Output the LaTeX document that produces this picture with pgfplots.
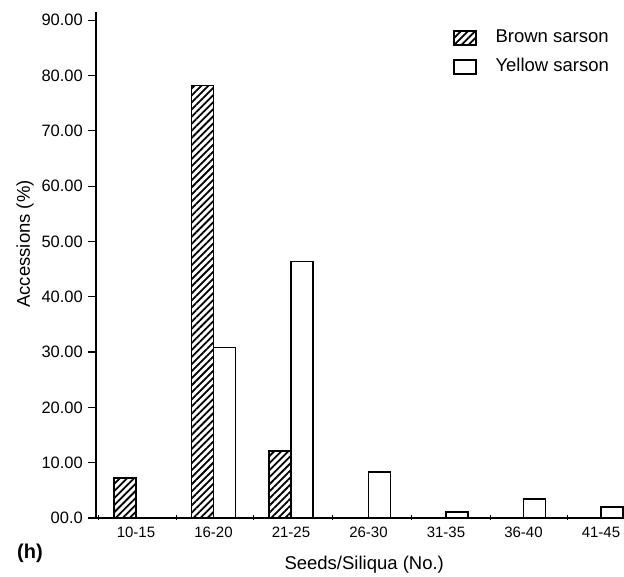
\documentclass[border=0pt]{standalone}
\usepackage{pgfplots}
\pgfplotsset{compat=1.18}
\usepackage{fontspec}
\setmainfont{Liberation Sans}
\usetikzlibrary{patterns.meta}
\pgfplotsset{mylegend/.style={legend image code/.code={\draw[##1] (0pt,-7pt) rectangle (22pt,7pt);}}}
\begin{document}
\begin{tikzpicture}
\path[use as bounding box] (-96pt,-59pt) rectangle (528pt,518pt);
\begin{axis}[
  at={(0,0)}, anchor=south west,
  scale only axis, width=528pt, height=506pt,
  xmin=-0.516, xmax=6.297, ymin=0, ymax=91.5,
  axis x line=bottom, axis y line=left,
  axis line style={line width=1.4pt, -},
  tick align=outside,
  major tick length=8pt,
  ytick={0,10,...,90},
  yticklabels={00.0,10.00,20.00,30.00,40.00,50.00,60.00,70.00,80.00,90.00},
  y tick style={line width=1.2pt, black},
  xtick={0,...,6},
  xticklabels={10-15,16-20,21-25,26-30,31-35,36-40,41-45},
  x tick style={draw=none},
  extra x ticks={-0.49,0.52,1.52,2.54,3.56,4.57,5.57},
  extra x tick labels={},
  extra x tick style={x tick style={draw=black, line width=1pt}, major tick length=5pt, tick align=center},
  yticklabel style={font=\fontsize{16.5}{19}\selectfont, inner sep=2pt, xshift=-3pt},
  xticklabel style={font=\fontsize{15}{18}\selectfont, yshift=3pt, text height=11pt, text depth=3pt},
  xlabel={Seeds/Siliqua (No.)},
  ylabel={Accessions (\%)},
  label style={font=\fontsize{18.5}{22}\selectfont},
  xlabel style={at={(axis description cs:0.508,0)}, anchor=north, inner sep=0pt, yshift=-38pt},
  ylabel style={at={(axis description cs:0,0.5415)}, anchor=center, inner sep=0pt, yshift=71pt},
  legend style={at={(rel axis cs:0.676,0.968)}, anchor=north west, draw=none, fill=none,
    inner sep=0pt, font=\fontsize{18.5}{22}\selectfont,
    nodes={inner sep=1pt, text height=13pt, text depth=4pt},
    row sep=10pt, column sep=18pt},
  legend cell align=left,
  clip=false,
]
\addplot[ybar, bar width=22pt, bar shift=-11pt, draw=black, line width=1.4pt,
  pattern={Lines[angle=45,distance=5pt,line width=1.8pt]}, pattern color=black, mylegend]
  coordinates {(0,7.2) (1,78.2) (2,12.1)};
\addlegendentry{Brown sarson}
\addplot[ybar, bar width=22pt, bar shift=11pt, draw=black, fill=white, line width=1.4pt, mylegend]
  coordinates {(1,30.8) (2,46.4) (3,8.3) (4,1.1) (5,3.4) (6,2.0)};
\addlegendentry{Yellow sarson}
\node[font=\bfseries\fontsize{20}{24}\selectfont] at (rel axis cs:-0.125,-0.069) {(h)};
\end{axis}
\end{tikzpicture}
\end{document}
